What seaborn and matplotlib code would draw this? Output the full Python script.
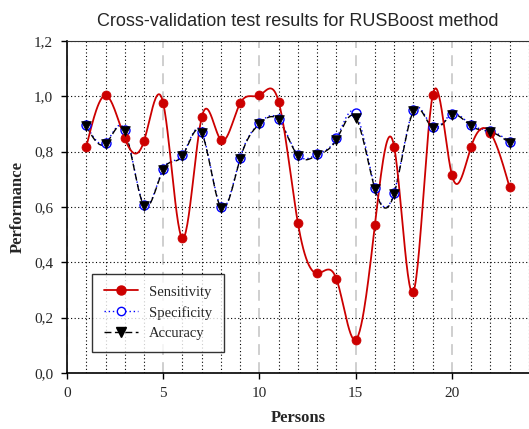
import numpy as np
import pandas as pd
import seaborn as sns
import matplotlib
matplotlib.use("Agg")
import matplotlib.pyplot as plt
from matplotlib.lines import Line2D
from matplotlib.ticker import MultipleLocator, FuncFormatter

# values
persons = list(range(1, 24))
sensitivity = [0.818, 1.003, 0.848, 0.838, 0.975, 0.487, 0.924, 0.842, 0.975, 1.003, 0.980, 0.541,
               0.360, 0.340, 0.120, 0.535, 0.818, 0.294, 1.003, 0.716, 0.818, 0.868, 0.671]
specificity = [0.896, 0.832, 0.878, 0.608, 0.738, 0.788, 0.872, 0.601, 0.778, 0.903, 0.917, 0.788,
               0.791, 0.848, 0.940, 0.670, 0.652, 0.950, 0.890, 0.936, 0.896, 0.876, 0.836]
accuracy = [0.893, 0.828, 0.875, 0.605, 0.735, 0.785, 0.868, 0.598, 0.775, 0.900, 0.913, 0.785,
            0.787, 0.843, 0.923, 0.665, 0.648, 0.946, 0.885, 0.932, 0.892, 0.872, 0.832]


def natural_spline(x, y, n=600):
    # natural cubic spline through the points, only used to draw the smooth line
    x = np.asarray(x, float)
    y = np.asarray(y, float)
    k = len(x)
    h = np.diff(x)
    A = np.zeros((k, k))
    b = np.zeros(k)
    A[0, 0] = A[-1, -1] = 1
    for i in range(1, k - 1):
        A[i, i - 1] = h[i - 1]
        A[i, i] = 2 * (h[i - 1] + h[i])
        A[i, i + 1] = h[i]
        b[i] = 6 * ((y[i + 1] - y[i]) / h[i] - (y[i] - y[i - 1]) / h[i - 1])
    M = np.linalg.solve(A, b)
    xs = np.linspace(x[0], x[-1], n)
    idx = np.clip(np.searchsorted(x, xs) - 1, 0, k - 2)
    x0, x1 = x[idx], x[idx + 1]
    hh = x1 - x0
    t0, t1 = x1 - xs, xs - x0
    ys = (M[idx] * t0 ** 3 + M[idx + 1] * t1 ** 3) / (6 * hh) \
        + (y[idx] / hh - M[idx] * hh / 6) * t0 + (y[idx + 1] / hh - M[idx + 1] * hh / 6) * t1
    return xs, ys


sns.set_style("white")
plt.rcParams['font.family'] = ['Liberation Serif', 'DejaVu Serif']

df = pd.DataFrame({"Persons": persons, "Sensitivity": sensitivity,
                   "Specificity": specificity, "Accuracy": accuracy})

fig = plt.figure(figsize=(5.29, 4.29), dpi=100)
ax = fig.add_axes([0.1267, 0.1305, 0.873, 0.774])

# grid
ax.xaxis.set_major_locator(MultipleLocator(5))
ax.xaxis.set_minor_locator(MultipleLocator(1))
ax.yaxis.set_major_locator(MultipleLocator(0.2))
ax.grid(which="minor", axis="x", color="black", linestyle=(0, (1, 2.2)), linewidth=0.8)
ax.grid(which="major", axis="x", color="#cccccc", linestyle=(0, (6, 4)), linewidth=1.3)
ax.grid(which="major", axis="y", color="black", linestyle=(0, (1, 2.2)), linewidth=0.8)
ax.set_axisbelow(True)

# smooth lines
for col, color, ls, lw in [("Specificity", "blue", (0, (1, 2)), 1.0),
                           ("Accuracy", "black", (0, (5, 2.5)), 1.0),
                           ("Sensitivity", "#cc0000", "-", 1.3)]:
    xs, ys = natural_spline(df["Persons"], df[col])
    sns.lineplot(x=xs, y=ys, ax=ax, color=color, linestyle=ls, linewidth=lw, zorder=3)

# markers
sns.scatterplot(data=df, x="Persons", y="Sensitivity", ax=ax, marker="o", s=42,
                color="#cc0000", edgecolor="#cc0000", zorder=5)
sns.scatterplot(data=df, x="Persons", y="Specificity", ax=ax, marker="o", s=42,
                facecolor="white", edgecolor="blue", linewidth=1.0, zorder=4)
sns.scatterplot(data=df, x="Persons", y="Accuracy", ax=ax, marker="v", s=48,
                color="black", edgecolor="black", zorder=6)

ax.set_xlim(0, 24)
ax.set_ylim(0, 1.2)
ax.yaxis.set_major_formatter(FuncFormatter(lambda v, p: f"{v:.1f}".replace(".", ",")))

for s in ["left", "bottom"]:
    ax.spines[s].set_color("black")
    ax.spines[s].set_linewidth(1.2)
ax.spines["top"].set_color("#333333")
ax.spines["top"].set_linewidth(0.8)
ax.spines["right"].set_visible(False)

ax.tick_params(which="major", direction="out", length=4, width=1, color="black",
               labelsize=11, pad=6, bottom=True, left=True)
ax.tick_params(which="minor", length=0)

ax.set_xlabel("Persons", fontsize=12, fontweight="bold", labelpad=7)
ax.set_ylabel("Performance", fontsize=12, fontweight="bold", labelpad=6)
ax.set_title("Cross-validation test results for RUSBoost method",
             family="Liberation Sans", fontsize=13, pad=11)

handles = [
    Line2D([], [], color="#cc0000", linestyle="-", linewidth=1.3, marker="o", markersize=6.5),
    Line2D([], [], color="blue", linestyle=(0, (1, 2)), linewidth=1.0, marker="o", markersize=6,
           markerfacecolor="white", markeredgecolor="blue"),
    Line2D([], [], color="black", linestyle=(0, (5, 2.5)), linewidth=1.0, marker="v",
           markersize=7),
]
leg = ax.legend(handles, ["Sensitivity", "Specificity", "Accuracy"], loc="lower left",
                bbox_to_anchor=(0.055, 0.064), fontsize=10.5, frameon=True, fancybox=False,
                handlelength=2.3, handletextpad=0.8, borderpad=0.8, labelspacing=0.5,
                borderaxespad=0)
leg.get_frame().set_edgecolor("black")
leg.get_frame().set_linewidth(1.0)
leg.set_zorder(10)

fig.savefig("out.png", dpi=100)
